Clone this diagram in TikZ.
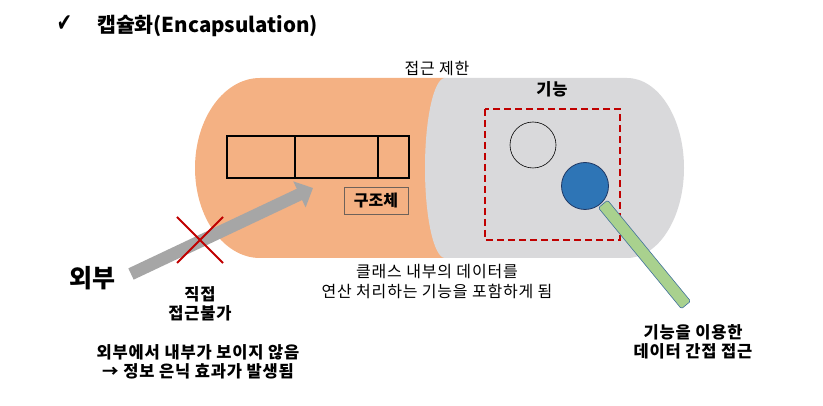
\documentclass[tikz,border=0pt]{standalone}
\usepackage{fontspec}
\setmainfont{Noto Sans CJK KR}
\newfontfamily\symf{DejaVu Sans}
\usetikzlibrary{arrows.meta}
\definecolor{capor}{HTML}{F4B183}
\definecolor{capgray}{HTML}{D9D9DB}
\definecolor{arrgray}{HTML}{A6A6A6}
\definecolor{dred}{HTML}{C00000}
\definecolor{fblue}{HTML}{2E75B6}
\definecolor{fnavy}{HTML}{1F3864}
\definecolor{fgreen}{HTML}{A9D18E}
\definecolor{gline}{HTML}{41719C}
\definecolor{boxline}{HTML}{6E625A}
\tikzset{
  txt/.style={align=center, inner sep=0pt, font=\fontsize{16}{20}\selectfont\addfontfeatures{LetterSpace=5}},
  btxt/.style={align=center, inner sep=0pt, font=\bfseries\fontsize{16.5}{19}\selectfont\addfontfeatures{LetterSpace=5}},
}
\begin{document}
\begin{tikzpicture}[x=1pt,y=-1pt]
\useasboundingbox (0,0) rectangle (823,406);
% capsule body
\fill[capor] (445,78) -- (260,78) arc[start angle=90, end angle=270, x radius=65pt, y radius=90pt] -- (445,258) -- cycle;
\fill[capgray] (445,78) -- (627,78) arc[start angle=90, end angle=-90, x radius=57pt, y radius=90pt] -- (445,258) arc[start angle=270, end angle=90, x radius=20pt, y radius=90pt] -- cycle;
% structure
\draw[line width=1.6pt] (227,136) rectangle (409,178);
\draw[line width=1.6pt] (295,136) -- (295,178);
\draw[line width=1.6pt] (378,136) -- (378,178);
\node[draw=boxline, line width=0.8pt, minimum width=64pt, minimum height=27pt, inner sep=0pt, font=\bfseries\fontsize{16}{19}\selectfont] (struct) at (376,200.5) {구조체};
% functions
\draw[dred, line width=1.6pt, dash pattern=on 7pt off 4pt] (485,109) rectangle (620,240);
\node[circle, draw, line width=0.6pt, fill=capgray, minimum size=46pt, inner sep=0pt] (c1) at (533,145) {};
\node[circle, draw=fnavy, line width=0.8pt, fill=fblue, minimum size=47pt, inner sep=0pt] (c2) at (585,186) {};
\draw[gline, line width=0.6pt, fill=fgreen, rounded corners=1.5pt] (607.6,200.2) -- (598.4,207.8) -- (681.4,308.8) -- (690.6,301.2) -- cycle;
% arrow
\coordinate (tail) at (131,274);
\coordinate (tip) at (313,188);
\draw[arrgray, line width=12.5pt, -{Triangle[length=15pt,width=28pt]}] (tail) -- (tip);
% red X
\draw[dred, line width=2pt] (177,217) -- (223,263);
\draw[dred, line width=2pt] (223,217) -- (177,263);
% texts
\node[inner sep=0pt, font=\symf\fontsize{25}{28}\selectfont] (check) at (64.5,24) {\scalebox{0.72}[1]{✔}};
\node[anchor=west, inner sep=0pt, font=\bfseries\fontsize{20.5}{24}\selectfont] (title) at (97,26) {캡슐화(Encapsulation)};
\node[txt] (limit) at (437,69) {접근 제한};
\node[btxt] (func) at (552,89) {기능};
\node[inner sep=0pt, font=\bfseries\fontsize{25}{28}\selectfont] (outer) at (92,278) {외부};
\node[btxt] (direct) at (200,304) {직접\\접근불가};
\node[btxt] (hide) at (198,362) {외부에서 내부가 보이지 않음\\→ 정보 은닉 효과가 발생됨};
\node[txt] (inner) at (437,282) {클래스 내부의 데이터를\\연산 처리하는 기능을 포함하게 됨};
\node[btxt] (indirect) at (693,342) {기능을 이용한\\데이터 간접 접근};
\end{tikzpicture}
\end{document}
